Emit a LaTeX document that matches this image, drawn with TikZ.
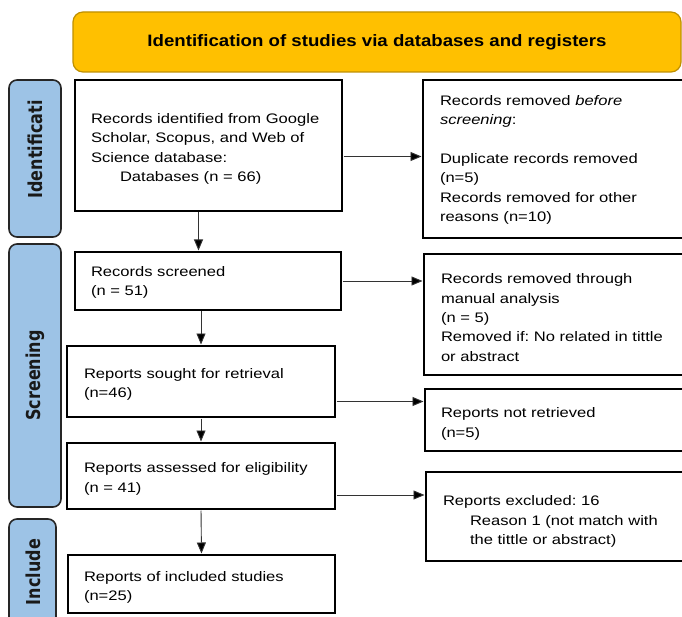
\documentclass[tikz,border=0pt]{standalone}
\usepackage{fontspec}
\setmainfont{Liberation Sans}[FakeStretch=1.2]
\newfontfamily\sidefont{DejaVu Sans}
\newfontfamily\headfont{Liberation Sans}[FakeStretch=1.13]
\usetikzlibrary{arrows.meta}
\frenchspacing
\definecolor{titlefill}{HTML}{FFC000}
\definecolor{titledraw}{HTML}{BF9000}
\definecolor{sidefill}{HTML}{9DC3E6}
\definecolor{arrowgray}{HTML}{333333}
\tikzset{
  flowbox/.style={draw=black, line width=1.5pt, rectangle, anchor=north west,
    outer sep=0pt, inner sep=0pt},
  flowtext/.style={anchor=west, inner sep=0pt, outer sep=0pt, align=left,
    font=\fontsize{13.8}{19.4}\selectfont},
  sidebox/.style={draw=black!85, line width=1.6pt, fill=sidefill, rounded corners=8pt,
    rectangle, anchor=north west, outer sep=0pt, inner sep=0pt},
  sidelabel/.style={rotate=90, font=\sidefont\bfseries\fontsize{16}{18}\selectfont, text=black!90},
  titlebox/.style={draw=titledraw, line width=1.2pt, fill=titlefill, rounded corners=10pt,
    rectangle, anchor=north west, outer sep=0pt, inner sep=0pt,
    font=\headfont\bfseries\fontsize{16.5}{18}\selectfont},
  arr/.style={draw=arrowgray, line width=0.9pt, -{Triangle[length=11pt,width=9pt,fill=black]}, shorten <=1.5pt, shorten >=1.5pt}
}
\begin{document}
\begin{tikzpicture}[x=1pt,y=-1pt]
\clip (0,0) rectangle (682,617);
\fill[white] (0,0) rectangle (682,617);

% title
\node[titlebox, minimum width=608pt, minimum height=60pt] (title) at (73,12)
  {\raisebox{-2pt}{Identification of studies via databases and registers}};

% side labels
\node[sidebox, minimum width=52pt, minimum height=157pt] (sid) at (9,80) {};
\node[sidelabel] (sidt) at ([yshift=9pt]sid.center) {\scalebox{1}[1.2]{Identificati}};
\node[sidebox, minimum width=52pt, minimum height=263pt] (sscr) at (9,244) {};
\node[sidelabel] (sscrt) at (sscr.center) {\scalebox{1}[1.2]{Screening}};
\node[sidebox, minimum width=47pt, minimum height=120pt] (sinc) at (9,519) {};
\node[sidelabel] (sinct) at (33,572) {\scalebox{1}[1.2]{Include}};

% left column boxes
\node[flowbox, minimum width=267pt, minimum height=131pt] (b1) at (75,80) {};
\node[flowbox, minimum width=266pt, minimum height=58pt] (b2) at (75,252) {};
\node[flowbox, minimum width=268pt, minimum height=71pt] (b3) at (67,346) {};
\node[flowbox, minimum width=268pt, minimum height=66pt] (b4) at (67,443) {};
\node[flowbox, minimum width=267pt, minimum height=58pt] (b5) at (68,555) {};

% right column boxes
\node[flowbox, minimum width=275pt, minimum height=158pt] (r1) at (423,80) {};
\node[flowbox, minimum width=275pt, minimum height=121pt] (r2) at (424,254) {};
\node[flowbox, minimum width=275pt, minimum height=62pt] (r3) at (425,389) {};
\node[flowbox, minimum width=275pt, minimum height=89pt] (r4) at (426,472) {};

% texts
\node[flowtext, text width=240pt] (b1t) at ([shift={(16pt,-3.5pt)}]b1.west)
  {Records identified from Google\\
   Scholar, Scopus, and Web of\\
   Science database:\\
   \hspace*{29pt}Databases (n = 66)};
\node[flowtext, text width=240pt] (b2t) at ([shift={(16pt,-1.5pt)}]b2.west)
  {Records screened\\(n = 51)};
\node[flowtext, text width=240pt] (b3t) at ([shift={(17pt,-3pt)}]b3.west)
  {Reports sought for retrieval\\(n=46)};
\node[flowtext, text width=240pt] (b4t) at ([shift={(17pt,-3pt)}]b4.west)
  {Reports assessed for eligibility\\(n = 41)};
\node[flowtext, text width=240pt] (b5t) at ([shift={(16pt,-3.5pt)}]b5.west)
  {Reports of included studies\\(n=25)};
\node[flowtext, text width=240pt] (r1t) at ([shift={(17pt,-1pt)}]r1.west)
  {Records removed \emph{before}\\
   \emph{screening}:\\[19.4pt]
   Duplicate records removed\\
   (n=5)\\
   Records removed for other\\
   reasons (n=10)};
\node[flowtext, text width=240pt] (r2t) at ([shift={(17pt,-3pt)}]r2.west)
  {Records removed through\\
   manual analysis\\
   (n = 5)\\
   Removed if: No related in tittle\\
   or abstract};
\node[flowtext, text width=240pt] (r3t) at ([shift={(16pt,-4pt)}]r3.west)
  {Reports not retrieved\\(n=5)};
\node[flowtext, text width=240pt] (r4t) at ([shift={(17pt,-5pt)}]r4.west)
  {Reports excluded: 16\\
   \hspace*{27pt}Reason 1 (not match with\\
   \hspace*{27pt}the tittle or abstract)};

% horizontal arrows
\draw[arr] ([yshift=-11pt]b1.east) -- ([yshift=-11pt]b1.east -| r1.west);
\draw[arr] (b2.east) -- (b2.east -| r2.west);
\draw[arr] ([yshift=-20pt]b3.east) -- ([yshift=-20pt]b3.east -| r3.west);
\draw[arr] ([yshift=-19pt]b4.east) -- ([yshift=-19pt]b4.east -| r4.west);

% vertical arrows
\draw[arr] ([xshift=-10pt]b1.south) -- ([xshift=-10pt]b1.south |- b2.north);
\draw[arr] (b2.south -| b3.north) -- (b3.north);
\draw[arr] (b3.south) -- (b4.north);
\draw[arr] (b4.south) -- (b5.north);
\end{tikzpicture}
\end{document}
